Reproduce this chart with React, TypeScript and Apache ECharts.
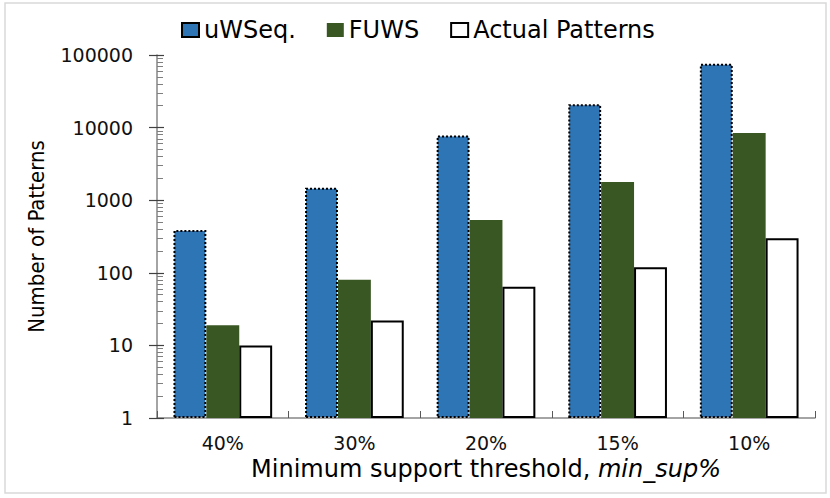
import React, { useEffect, useRef } from "react";
import * as echarts from "echarts";

const categories = ["40%", "30%", "20%", "15%", "10%"];
const uWSeqValues = [390, 1480, 7800, 21000, 76000];
const fuwsValues = [19, 80, 535, 1780, 8450];
const actualValues = [10, 22, 64, 119, 300];
const yMin = 1;
const yMax = 100000;

const FONT = "'DejaVu Sans', Verdana, sans-serif";

export default function App() {
  const ref = useRef<HTMLDivElement>(null);
  useEffect(() => {
    if (!ref.current) return;
    const chart = echarts.init(ref.current, null, { renderer: "svg" });
    const axisGray = "#868686";
    chart.setOption({
      animation: false,
      backgroundColor: "#ffffff",
      graphic: [
        {
          type: "rect",
          shape: { x: 5, y: 3, width: 821, height: 490 },
          style: { fill: "none", stroke: "#d9d9d9", lineWidth: 1.5 },
          silent: true,
        },
      ],
      legend: {
        left: 176,
        top: 13,
        icon: "rect",
        itemWidth: 17,
        itemHeight: 14,
        itemGap: 31,
        textStyle: { fontFamily: FONT, fontSize: 24, color: "#000" },
        data: ["uWSeq.", "FUWS", "Actual Patterns"],
      },
      grid: { left: 157, right: 15, top: 55, bottom: 80, containLabel: false },
      xAxis: [
        {
          type: "category",
          position: "bottom",
          data: categories,
          axisLine: { lineStyle: { color: axisGray, width: 1.5 } },
          axisTick: { show: true, inside: true, length: 7, lineStyle: { color: "#595959", width: 1 } },
          axisLabel: { fontFamily: FONT, fontSize: 19, color: "#111", margin: 15 },
          name: "Minimum support threshold, {i|min_sup%}",
          nameLocation: "middle",
          nameGap: 39,
          nameTextStyle: {
            fontFamily: FONT,
            fontSize: 24,
            color: "#000",
            rich: { i: { fontFamily: FONT, fontSize: 24, fontStyle: "italic", color: "#000" } },
          },
        },
        {
          type: "category",
          position: "bottom",
          data: categories,
          axisLine: { show: false },
          axisTick: { show: true, inside: true, alignWithLabel: true, length: 4, lineStyle: { color: "#595959", width: 1 } },
          axisLabel: { show: false },
        },
      ],
      yAxis: [
        {
          type: "log",
          logBase: 10,
          min: yMin,
          max: yMax,
          position: "left",
          axisLine: { show: true, lineStyle: { color: axisGray, width: 1.5 } },
          axisTick: { show: true, inside: false, length: 8, lineStyle: { color: "#404040", width: 1.2 } },
          axisLabel: {
            fontFamily: FONT,
            fontSize: 19,
            color: "#111",
            margin: 24,
            formatter: (v: number) => String(v),
          },
          splitLine: { show: false },
          name: "Number of Patterns",
          nameLocation: "middle",
          nameGap: 110,
          nameTextStyle: { fontFamily: "'Liberation Sans Narrow', 'DejaVu Sans Condensed', sans-serif", fontSize: 22, color: "#000" },
        },
        {
          type: "log",
          logBase: 10,
          min: yMin,
          max: yMax,
          position: "left",
          offset: 0,
          axisLine: { show: false },
          axisTick: { show: true, inside: true, length: 7, lineStyle: { color: "#404040", width: 1.2 } },
          minorTick: { show: true, splitNumber: 9, length: 6, lineStyle: { color: "#7f7f7f", width: 1 } },
          axisLabel: { show: false },
          splitLine: { show: false },
        },
      ],
      series: [
        {
          name: "uWSeq.",
          type: "bar",
          data: uWSeqValues,
          barGap: "0%",
          barCategoryGap: "25%",
          itemStyle: { color: "#2E75B6", borderColor: "#000", borderWidth: 2, borderType: "dotted" },
        },
        {
          name: "FUWS",
          type: "bar",
          data: fuwsValues,
          barGap: "0%",
          barCategoryGap: "25%",
          itemStyle: { color: "#385723" },
        },
        {
          name: "Actual Patterns",
          type: "bar",
          data: actualValues,
          barGap: "0%",
          barCategoryGap: "25%",
          itemStyle: { color: "#ffffff", borderColor: "#000", borderWidth: 2 },
        },
      ],
    });
    return () => chart.dispose();
  }, []);
  return (
    <div
      ref={ref}
      style={{ position: "fixed", left: 0, top: 0, width: 830, height: 498 }}
    />
  );
}
